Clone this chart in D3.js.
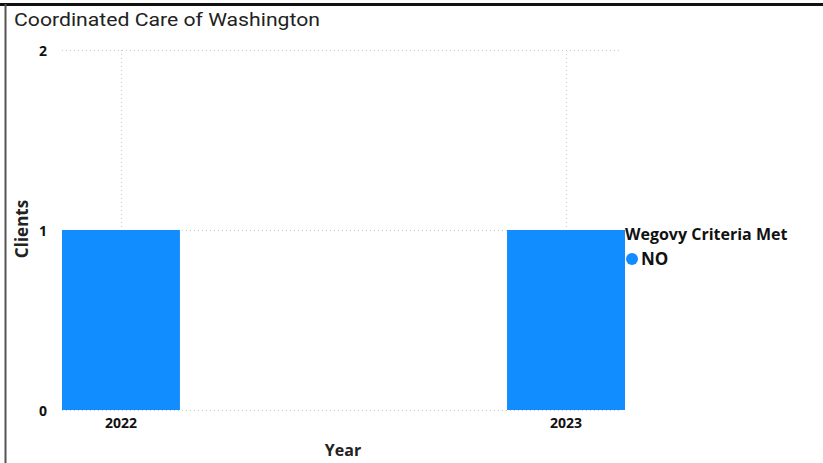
<!DOCTYPE html>
<html><head><meta charset="utf-8">
<script src="https://cdn.jsdelivr.net/npm/d3@7"></script>
<style>
body{margin:0;background:#fff;}
svg{display:block;}
</style></head>
<body>
<svg id="c" width="823" height="463"></svg>
<script>
const title = "Coordinated Care of Washington";
const categories = ["2022", "2023"];
const seriesName = "NO";
const values = [1, 1];
const yTicks = [0, 1, 2];
const xTitle = "Year";
const yTitle = "Clients";
const legendTitle = "Wegovy Criteria Met";

const svg = d3.select("#c");
const font = "'Segoe UI','Open Sans','Noto Sans',sans-serif";

// frame
svg.append("line").attr("x1",0).attr("x2",823).attr("y1",4.5).attr("y2",4.5).attr("stroke","#111").attr("stroke-width",3);
svg.append("line").attr("x1",5.5).attr("x2",5.5).attr("y1",4).attr("y2",463).attr("stroke","#555").attr("stroke-width",2);

svg.append("text").attr("x",14).attr("y",26).attr("font-family","'Roboto','Noto Sans',sans-serif")
  .attr("font-size",18).attr("fill","#222").attr("textLength",306).attr("lengthAdjust","spacingAndGlyphs").text(title);

const x = d3.scaleBand().domain(categories).range([62,625]).paddingInner(0.735).paddingOuter(0);
const y = d3.scaleLinear().domain([0,2]).range([410,50]);

// gridlines
const grid = svg.append("g");
grid.selectAll("line.h").data(yTicks).join("line")
  .attr("x1",62).attr("x2",622).attr("y1",d=>y(d)+0.5).attr("y2",d=>y(d)+0.5)
  .attr("stroke","#c8c8c8").attr("stroke-dasharray","1,3");
grid.selectAll("line.v").data(categories).join("line")
  .attr("x1",d=>Math.round(x(d)+x.bandwidth()/2)+0.5).attr("x2",d=>Math.round(x(d)+x.bandwidth()/2)+0.5)
  .attr("y1",y(2)).attr("y2",y(0))
  .attr("stroke","#c8c8c8").attr("stroke-dasharray","1,3");

// bars
svg.append("g").selectAll("rect").data(values).join("rect")
  .attr("x",(d,i)=>x(categories[i])).attr("width",x.bandwidth())
  .attr("y",d=>y(d)).attr("height",d=>y(0)-y(d))
  .attr("fill","#118DFF");

// y axis
const ya = svg.append("g").attr("transform","translate(47,1)")
  .call(d3.axisLeft(y).tickValues(yTicks).tickFormat(d3.format("d")).tickSize(0).tickPadding(0));
ya.select(".domain").remove();
ya.selectAll("text").attr("font-family",font).attr("font-weight","bold").attr("font-size",14).attr("fill","#111");

// x axis
const xa = svg.append("g").attr("transform","translate(0,418)")
  .call(d3.axisBottom(x).tickSize(0).tickPadding(0));
xa.select(".domain").remove();
xa.selectAll("text").attr("font-family",font).attr("font-weight","bold").attr("font-size",14).attr("fill","#111");

// axis titles
svg.append("text").attr("x",343).attr("y",456).attr("text-anchor","middle")
  .attr("font-family",font).attr("font-weight","bold").attr("font-size",16).attr("fill","#222").text(xTitle);
svg.append("text").attr("transform","translate(28,229) rotate(-90)").attr("text-anchor","middle")
  .attr("font-family",font).attr("font-weight","bold").attr("font-size",17).attr("fill","#222").text(yTitle);

// legend
svg.append("text").attr("x",625).attr("y",240).attr("font-family",font).attr("font-weight","bold")
  .attr("font-size",16).attr("fill","#111").text(legendTitle);
const lg = svg.append("g").attr("transform","translate(632,259)");
lg.append("circle").attr("r",6).attr("fill","#118DFF");
lg.append("text").attr("x",9).attr("y",6).attr("font-family",font).attr("font-weight","bold")
  .attr("font-size",17).attr("fill","#111").text(seriesName);
</script>
</body></html>
